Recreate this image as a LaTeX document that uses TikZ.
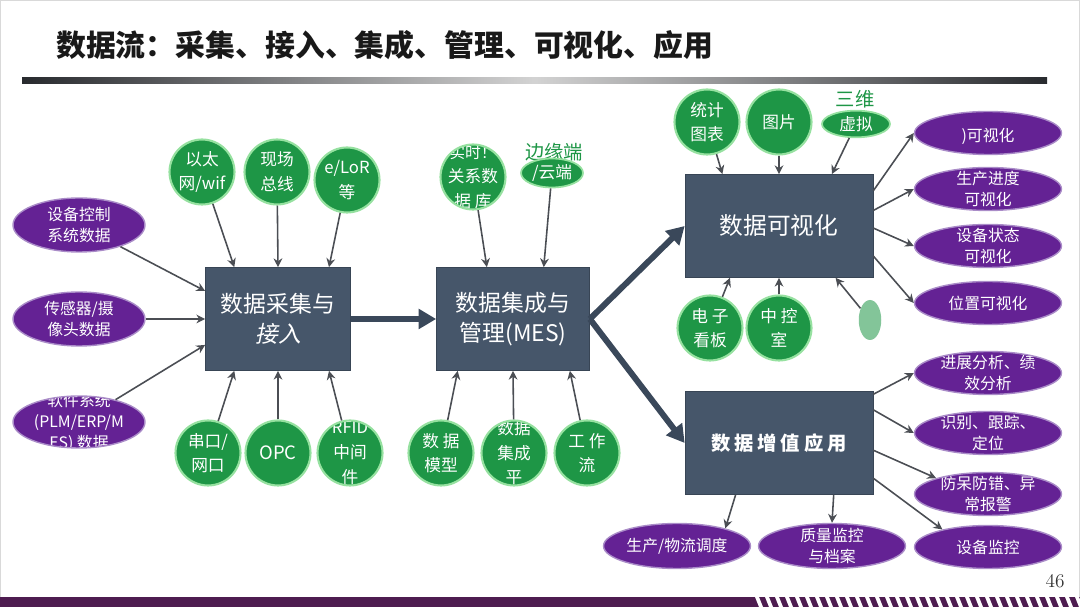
\documentclass[tikz,border=0pt]{standalone}
\usepackage{fontspec}
\newfontfamily\cjk{Noto Sans CJK SC}
\usepackage{xcolor}
\definecolor{slate}{RGB}{70,86,106}
\definecolor{flowdark}{RGB}{58,72,90}
\definecolor{leaf}{RGB}{30,150,70}
\definecolor{leafglow}{RGB}{150,225,160}
\definecolor{violet}{RGB}{100,34,148}
\definecolor{violetrim}{RGB}{170,140,200}
\definecolor{linkgray}{RGB}{75,78,84}
\definecolor{ruledark}{RGB}{40,42,46}
\definecolor{bandpurple}{RGB}{78,28,80}
\usepackage{tikz}
\usetikzlibrary{shapes.geometric, arrows.meta, positioning, calc}

\begin{document}
\begin{tikzpicture}[x=0.02cm, y=-0.02cm,
        procbox/.style={rectangle, fill=slate, draw=slate!80!black, text=white, align=center, minimum width=#1, minimum height=2.06cm, font=\cjk\fontsize{13}{17}\selectfont},
        procbox/.default=3.76cm,
        srcell/.style={ellipse, fill=violet, draw=violetrim, line width=0.8pt, minimum width=2.94cm, minimum height=0.86cm, inner sep=0pt,
            path picture={\node[text=white, align=center, font=\cjk\fontsize{9}{12}\selectfont] at (path picture bounding box.center) {#1};}},
        bubble/.style={circle, fill=leaf, draw=leafglow, line width=1.2pt, minimum size=1.3cm, inner sep=0pt,
            path picture={\node[text=white, align=center, font=\cjk\fontsize{9.5}{14}\selectfont] at (path picture bounding box.center) {#1};}},
        blob/.style={ellipse, fill=leaf, draw=leafglow, line width=1pt, inner sep=1pt, text=white, font=\cjk\fontsize{9.5}{12}\selectfont},
        greentext/.style={text=leaf, font=\cjk\fontsize{11}{13}\selectfont},
        link/.style={-{Stealth[length=5pt,width=5pt]}, linkgray, line width=0.9pt},
        flow/.style={-{Triangle[length=10pt,width=11pt]}, flowdark, line width=3.4pt}
    ]
    \useasboundingbox (0,0) rectangle (1080,607);
    \draw[gray!30, line width=1pt] (0.5,0.5) rectangle (1079.5,606.5);

    % title and rule
    \node[anchor=west, text=black!90, font=\cjk\bfseries\fontsize{17}{20}\selectfont] (title) at (50,45) {数据流：采集、接入、集成、管理、可视化、应用};
    \shade[left color=ruledark, right color=ruledark, middle color=gray!35] (22,78) rectangle (1047,84);

    % main boxes
    \node[procbox=2.9cm] (acq) at (278,319) {数据采集与\\{\addfontfeature{FakeSlant=0.2}接入}};
    \node[procbox=3.06cm] (integ) at (513,319) {数据集成与\\管理(MES)};
    \node[procbox, font=\cjk\fontsize{13.5}{17}\selectfont] (vis) at (779,226) {数据可视化};
    \node[procbox, font=\cjk\bfseries\fontsize{11}{13}\selectfont\addfontfeature{LetterSpace=20}] (app) at (779,443) {数据增值应用};

    % sources on the left
    \node[srcell={设备控制\\系统数据}, minimum width=2.64cm, minimum height=1.08cm] (ctrl) at (79,225) {};
    \node[srcell={传感器/摄\\像头数据}, minimum width=2.64cm, minimum height=1.08cm] (sens) at (79,319) {};
    \node[srcell={软件系统\\(PLM/ERP/M\\ES) 数据}, minimum width=2.64cm, minimum height=1.04cm] (soft) at (79,422) {};

    % acquisition means
    \node[bubble={以太\\网/wif}] (eth) at (202,172) {};
    \node[bubble={现场\\总线}] (fbus) at (277,172) {};
    \node[bubble={e/LoR\\等}] (lora) at (347,180) {};
    \node[bubble={串口/\\网口}] (serial) at (208,453) {};
    \node[bubble={\fontsize{10.5}{14}\selectfont OPC}] (opc) at (278,453) {};
    \node[bubble={RFID\\中间\\件}] (rfid) at (350,453) {};

    % integration means
    \node[bubble={\fontsize{9}{10.8}\selectfont 实时！\\关系数\\据 库}] (rtdb) at (473,177) {};
    \node[greentext] (edgetxt) at (554,152) {边缘端};
    \node[blob, minimum width=1.24cm, minimum height=0.46cm] (cloud) at (552,173) {/云端};
    \node[bubble={数 据\\模型}] (model) at (441,453) {};
    \node[bubble={数据\\集成\\平}] (dip) at (514,453) {};
    \node[bubble={工 作\\流}] (wflow) at (587,453) {};

    % visualization means
    \node[bubble={统计\\图表}] (chart) at (707,122) {};
    \node[bubble={图片}] (pic) at (779,122) {};
    \node[greentext] (dimtxt) at (855,99) {三维};
    \node[blob, minimum width=1.36cm, minimum height=0.46cm] (virt) at (856,124) {虚拟};
    \node[bubble={电 子\\看板}] (board) at (710,328) {};
    \node[bubble={中 控\\室}] (croom) at (779,328) {};
    \node[ellipse, fill=leaf!55, minimum width=0.45cm, minimum height=0.8cm, inner sep=0pt] (smudge) at (870,320) {};

    % visualization targets
    \node[srcell={\mbox{}\\)可视化}] (plantvis) at (988,133) {};
    \node[srcell={生产进度\\可视化}] (progvis) at (988,189) {};
    \node[srcell={设备状态\\可视化}] (statvis) at (988,246) {};
    \node[srcell={位置可视化}] (posvis) at (988,303) {};

    % applications
    \node[srcell={进展分析、绩\\效分析}] (anal) at (988,373) {};
    \node[srcell={识别、跟踪、\\定位}] (track) at (988,433) {};
    \node[srcell={防呆防错、异\\常报警}] (alarm) at (988,494) {};
    \node[srcell={设备监控}] (devmon) at (988,547) {};
    \node[srcell={生产/物流调度}, minimum height=0.9cm] (logis) at (677,546) {};
    \node[srcell={质量监控\\与档案}, minimum height=0.9cm] (quality) at (832,546) {};

    \node[font=\fontsize{11}{13}\selectfont, text=black!80] (pageno) at (1055,581) {46};

    % bottom band
    \fill[bandpurple] (0,597) rectangle (1080,607);
    \foreach \k in {0,...,32} {
        \fill[white] ({755+10*\k},597) -- ({759+10*\k},597) -- ({763+10*\k},607) -- ({759+10*\k},607) -- cycle;
    }

    % main flow
    \draw[flow] (acq.east) -- (integ.west);
    \draw[flow] (integ.east) -- (vis.west);
    \draw[flow] (integ.east) -- (app.west);

    % into acquisition
    \draw[link] (ctrl) -- ($(acq.north west)!0.23!(acq.south west)$);
    \draw[link] (sens) -- (acq.west);
    \draw[link] (soft) -- ($(acq.north west)!0.75!(acq.south west)$);
    \draw[link] (eth) -- ($(acq.north west)!0.2!(acq.north east)$);
    \draw[link] (fbus) -- (acq.north);
    \draw[link] (lora) -- ($(acq.north west)!0.85!(acq.north east)$);
    \draw[link] (serial) -- ($(acq.south west)!0.2!(acq.south east)$);
    \draw[link] (opc) -- (acq.south);
    \draw[link] (rfid) -- ($(acq.south west)!0.85!(acq.south east)$);

    % into integration
    \draw[link] (rtdb) -- ($(integ.north west)!0.33!(integ.north east)$);
    \draw[link] (cloud) -- ($(integ.north west)!0.7!(integ.north east)$);
    \draw[link] (model) -- ($(integ.south west)!0.14!(integ.south east)$);
    \draw[link] (dip) -- (integ.south);
    \draw[link] (wflow) -- ($(integ.south west)!0.87!(integ.south east)$);

    % into visualization
    \draw[link] (chart) -- ($(vis.north west)!0.2!(vis.north east)$);
    \draw[link] (pic) -- (vis.north);
    \draw[link] (virt) -- ($(vis.north west)!0.78!(vis.north east)$);
    \draw[link] (board) -- ($(vis.south west)!0.24!(vis.south east)$);
    \draw[link] (croom) -- (vis.south);
    \draw[link] (smudge) -- ($(vis.south west)!0.8!(vis.south east)$);

    % out of visualization
    \draw[link] ($(vis.north east)!0.16!(vis.south east)$) -- (plantvis.west);
    \draw[link] ($(vis.north east)!0.35!(vis.south east)$) -- (progvis.west);
    \draw[link] ($(vis.north east)!0.52!(vis.south east)$) -- (statvis.west);
    \draw[link] ($(vis.north east)!0.79!(vis.south east)$) -- (posvis.west);

    % out of applications
    \draw[link] ($(app.north east)!0.03!(app.south east)$) -- (anal.west);
    \draw[link] ($(app.north east)!0.18!(app.south east)$) -- (track.west);
    \draw[link] ($(app.north east)!0.57!(app.south east)$) -- (alarm.163);
    \draw[link] ($(app.north east)!0.84!(app.south east)$) -- (devmon.159);
    \draw[link] ($(app.south west)!0.27!(app.south east)$) -- (logis.20);
    \draw[link] ($(app.south west)!0.79!(app.south east)$) -- (quality.north);
\end{tikzpicture}
\end{document}
